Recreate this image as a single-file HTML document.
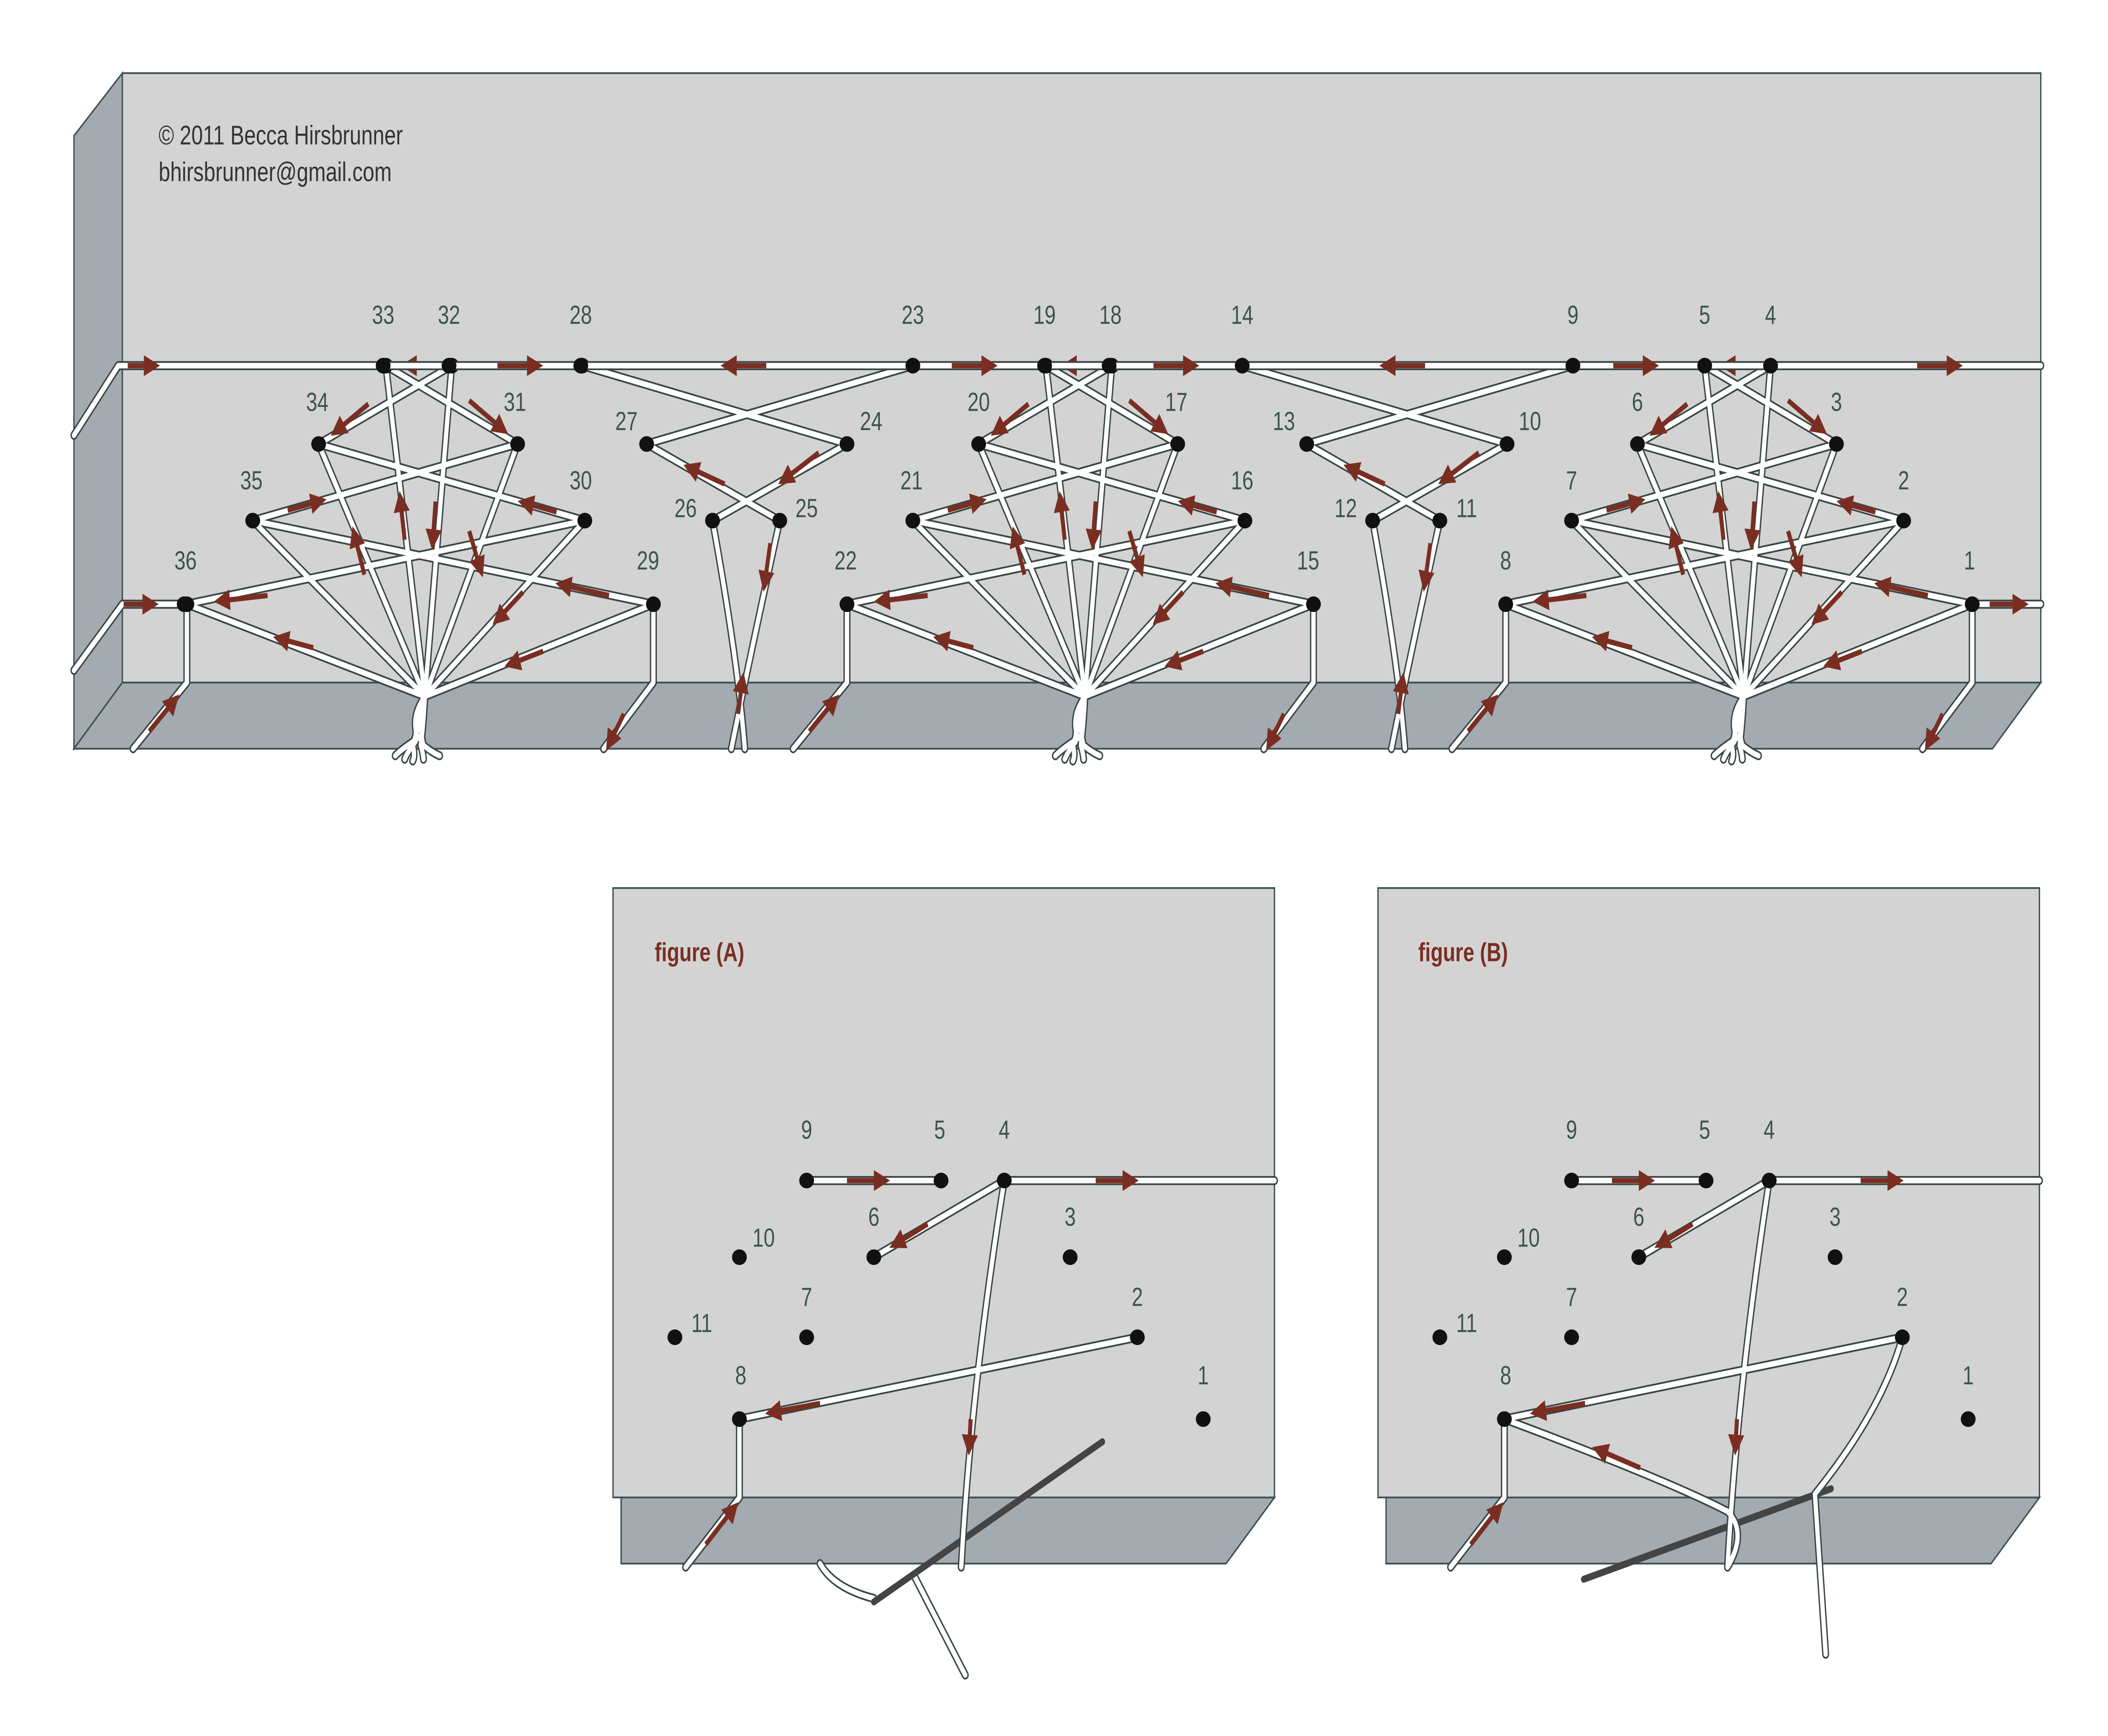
<!DOCTYPE html>
<html><head><meta charset="utf-8"><style>
html,body{margin:0;padding:0;background:#fff;width:100%;height:100%;overflow:hidden;}
svg{display:block;position:absolute;left:0;top:0;width:100vw;height:100vh;}
text{font-family:"Liberation Sans",sans-serif;}
.lbl{font-size:15px;fill:#3d5350;text-anchor:middle;}
.tw{fill:none;stroke:#3a4646;stroke-width:5.2;stroke-linecap:round;stroke-linejoin:round;}
.tw2{fill:none;stroke:#fff;stroke-width:3.2;stroke-linecap:round;stroke-linejoin:round;}
.ar{stroke:#7a2e22;stroke-width:3;marker-end:url(#ah);}
</style></head><body>
<svg viewBox="0 0 1568 997" preserveAspectRatio="none" xmlns="http://www.w3.org/2000/svg">
<defs>
<marker id="ah" markerWidth="4" markerHeight="4" refX="2" refY="2" orient="auto" markerUnits="strokeWidth"><path d="M0,0 L4,2 L0,4 z" fill="#7a2e22"/></marker>
<g id="hole"><ellipse cx="0" cy="0" rx="5.5" ry="4.5" fill="#111"/></g>
</defs>

<polygon points="55,78 91,42 91,392 55,430" fill="#a3aab0" stroke="#3c5050" stroke-width="1"/>
<polygon points="91,392 1518,392 1482,430 55,430" fill="#a3aab0" stroke="#3c5050" stroke-width="1"/>
<rect x="91" y="42" width="1427" height="350" fill="#d3d3d3" stroke="#3c5050" stroke-width="1"/>
<text x="118" y="83" font-size="15.5" fill="#333">© 2011 Becca Hirsbrunner</text>
<text x="118" y="104" font-size="15.5" fill="#333">bhirsbrunner@gmail.com</text>

<g id="grp">
<path class="tw" d="M1297,400 L1467,347 M1297,400 L1416,299 M1297,400 L1366,255 M1297,400 L1317,210 M1297,400 L1268,210 M1297,400 L1218,255 M1297,400 L1169,299 M1297,400 L1120,347
M1268,210 L1366,255 M1317,210 L1218,255 M1218,255 L1416,299 M1366,255 L1169,299 M1169,299 L1467,347 M1416,299 L1120,347
M1467,347 L1467,392 L1430,430 M1120,347 L1120,392 L1080,430
M1297,400 Q1286,412 1292,424 Q1280,430 1275,434 M1297,400 Q1290,414 1290,426 Q1284,432 1282,436 M1297,400 Q1294,414 1288,428 Q1290,434 1288,437 M1297,400 Q1296,416 1294,428 Q1296,434 1296,436 M1297,400 Q1292,418 1296,428 Q1302,432 1308,434"/>
<path class="tw2" d="M1297,400 L1467,347 M1297,400 L1416,299 M1297,400 L1366,255 M1297,400 L1317,210 M1297,400 L1268,210 M1297,400 L1218,255 M1297,400 L1169,299 M1297,400 L1120,347
M1268,210 L1366,255 M1317,210 L1218,255 M1218,255 L1416,299 M1366,255 L1169,299 M1169,299 L1467,347 M1416,299 L1120,347
M1467,347 L1467,392 L1430,430 M1120,347 L1120,392 L1080,430
M1297,400 Q1286,412 1292,424 Q1280,430 1275,434 M1297,400 Q1290,414 1290,426 Q1284,432 1282,436 M1297,400 Q1294,414 1288,428 Q1290,434 1288,437 M1297,400 Q1296,416 1294,428 Q1296,434 1296,436 M1297,400 Q1292,418 1296,428 Q1302,432 1308,434"/>
<g>
<use href="#hole" x="1268" y="210"/><use href="#hole" x="1317" y="210"/>
<use href="#hole" x="1218" y="255"/><use href="#hole" x="1366" y="255"/>
<use href="#hole" x="1169" y="299"/><use href="#hole" x="1416" y="299"/>
<use href="#hole" x="1120" y="347"/><use href="#hole" x="1467" y="347"/>
</g>
<line class="ar" x1="1300" y1="210" x2="1285" y2="210"/>
<line class="ar" x1="1330" y1="230" x2="1354" y2="246"/>
<line class="ar" x1="1255" y1="232" x2="1232" y2="247"/>
<line class="ar" x1="1395" y1="294" x2="1372" y2="289"/>
<line class="ar" x1="1195" y1="293" x2="1218" y2="288"/>
<line class="ar" x1="1434" y1="342" x2="1400" y2="336"/>
<line class="ar" x1="1180" y1="342" x2="1146" y2="345"/>
<line class="ar" x1="1282" y1="310" x2="1279" y2="288"/>
<line class="ar" x1="1305" y1="288" x2="1303" y2="310"/>
<line class="ar" x1="1252" y1="330" x2="1245" y2="308"/>
<line class="ar" x1="1330" y1="305" x2="1338" y2="326"/>
<line class="ar" x1="1370" y1="340" x2="1352" y2="355"/>
<line class="ar" x1="1214" y1="372" x2="1190" y2="367"/>
<line class="ar" x1="1385" y1="374" x2="1362" y2="381"/>
<line class="ar" x1="1445" y1="410" x2="1435" y2="426"/>
<line class="ar" x1="1092" y1="420" x2="1110" y2="403"/>
</g>
<use href="#grp" x="-490" y="0"/>
<use href="#grp" x="-981" y="0"/>

<g id="f8">
<path class="tw" d="M924,210 L1121,255 M1170,210 L972,255 M972,255 L1071,299 M1121,255 L1021,299 M1021,299 Q1040,380 1045,430 M1071,299 Q1048,380 1035,430"/>
<path class="tw2" d="M924,210 L1121,255 M1170,210 L972,255 M972,255 L1071,299 M1121,255 L1021,299 M1021,299 Q1040,380 1045,430 M1071,299 Q1048,380 1035,430"/>
<use href="#hole" x="924" y="210"/><use href="#hole" x="1170" y="210"/>
<use href="#hole" x="972" y="255"/><use href="#hole" x="1121" y="255"/>
<use href="#hole" x="1021" y="299"/><use href="#hole" x="1071" y="299"/>
<line class="ar" x1="1100" y1="260" x2="1075" y2="275"/>
<line class="ar" x1="1030" y1="278" x2="1005" y2="269"/>
<line class="ar" x1="1064" y1="312" x2="1060" y2="334"/>
<line class="ar" x1="1040" y1="410" x2="1043" y2="392"/>
</g>
<use href="#f8" x="-491" y="0"/>

<path class="tw" d="M55,250 L88,210 L1518,210 M55,385 L91,347 L137,347 M1467,347 L1518,347"/>
<path class="tw2" d="M55,250 L88,210 L1518,210 M55,385 L91,347 L137,347 M1467,347 L1518,347"/>
<g>
<use href="#hole" x="285" y="210"/><use href="#hole" x="334" y="210"/><use href="#hole" x="432" y="210"/><use href="#hole" x="679" y="210"/>
<use href="#hole" x="777" y="210"/><use href="#hole" x="825" y="210"/><use href="#hole" x="924" y="210"/><use href="#hole" x="1170" y="210"/>
<use href="#hole" x="1268" y="210"/><use href="#hole" x="1317" y="210"/><use href="#hole" x="137" y="347"/><use href="#hole" x="1467" y="347"/>
</g>
<line class="ar" x1="95" y1="210" x2="113" y2="210"/>
<line class="ar" x1="370" y1="210" x2="398" y2="210"/>
<line class="ar" x1="570" y1="210" x2="542" y2="210"/>
<line class="ar" x1="708" y1="210" x2="736" y2="210"/>
<line class="ar" x1="858" y1="210" x2="886" y2="210"/>
<line class="ar" x1="1060" y1="210" x2="1032" y2="210"/>
<line class="ar" x1="1200" y1="210" x2="1228" y2="210"/>
<line class="ar" x1="1426" y1="210" x2="1454" y2="210"/>
<line class="ar" x1="92" y1="347" x2="112" y2="347"/>
<line class="ar" x1="1480" y1="347" x2="1503" y2="347"/>

<g class="lbl">
<text x="285" y="186">33</text><text x="334" y="186">32</text><text x="432" y="186">28</text><text x="679" y="186">23</text>
<text x="777" y="186">19</text><text x="826" y="186">18</text><text x="924" y="186">14</text><text x="1170" y="186">9</text>
<text x="1268" y="186">5</text><text x="1317" y="186">4</text>
<text x="236" y="236">34</text><text x="383" y="236">31</text><text x="466" y="247">27</text><text x="648" y="247">24</text>
<text x="728" y="236">20</text><text x="875" y="236">17</text><text x="955" y="247">13</text><text x="1138" y="247">10</text>
<text x="1218" y="236">6</text><text x="1366" y="236">3</text>
<text x="187" y="281">35</text><text x="432" y="281">30</text><text x="510" y="297">26</text><text x="600" y="297">25</text>
<text x="678" y="281">21</text><text x="924" y="281">16</text><text x="1001" y="297">12</text><text x="1091" y="297">11</text>
<text x="1169" y="281">7</text><text x="1416" y="281">2</text>
<text x="138" y="327">36</text><text x="482" y="327">29</text><text x="629" y="327">22</text><text x="973" y="327">15</text>
<text x="1120" y="327">8</text><text x="1465" y="327">1</text>
</g>

<polygon points="462,860 948,860 912,898 462,898" fill="#a3aab0" stroke="#3c5050" stroke-width="1"/>
<rect x="456" y="510" width="492" height="350" fill="#d3d3d3" stroke="#3c5050" stroke-width="1"/>
<text x="487" y="552" font-size="15" font-weight="bold" fill="#7a2e22">figure (A)</text>
<path class="tw" d="M610,898 Q620,912 650,918 M680,905 L718,962"/>
<path class="tw2" d="M610,898 Q620,912 650,918 M680,905 L718,962"/>
<line x1="650" y1="920" x2="820" y2="828" stroke="#444" stroke-width="4" stroke-linecap="round"/>
<path class="tw" d="M600,678 L700,678 M747,678 L948,678 M747,678 L650,722 M747,678 Q722,800 715,900 M846,768 L550,815 M550,815 L550,860 L510,900"/>
<path class="tw2" d="M600,678 L700,678 M747,678 L948,678 M747,678 L650,722 M747,678 Q722,800 715,900 M846,768 L550,815 M550,815 L550,860 L510,900"/>
<g>
<use href="#hole" x="600" y="678"/><use href="#hole" x="700" y="678"/><use href="#hole" x="747" y="678"/>
<use href="#hole" x="650" y="722"/><use href="#hole" x="796" y="722"/><use href="#hole" x="550" y="722"/>
<use href="#hole" x="600" y="768"/><use href="#hole" x="846" y="768"/><use href="#hole" x="502" y="768"/>
<use href="#hole" x="550" y="815"/><use href="#hole" x="895" y="815"/>
</g>
<line class="ar" x1="630" y1="678" x2="656" y2="678"/>
<line class="ar" x1="815" y1="678" x2="841" y2="678"/>
<line class="ar" x1="690" y1="703" x2="667" y2="714"/>
<line class="ar" x1="722" y1="815" x2="721" y2="830"/>
<line class="ar" x1="610" y1="806" x2="575" y2="811"/>
<line class="ar" x1="525" y1="887" x2="545" y2="867"/>
<g class="lbl">
<text x="600" y="654">9</text><text x="699" y="654">5</text><text x="747" y="654">4</text>
<text x="650" y="704">6</text><text x="796" y="704">3</text><text x="568" y="716">10</text>
<text x="600" y="750">7</text><text x="846" y="750">2</text><text x="522" y="765">11</text>
<text x="551" y="795">8</text><text x="895" y="795">1</text>
</g>

<polygon points="1031,860 1517,860 1481,898 1031,898" fill="#a3aab0" stroke="#3c5050" stroke-width="1"/>
<rect x="1025" y="510" width="492" height="350" fill="#d3d3d3" stroke="#3c5050" stroke-width="1"/>
<text x="1055" y="552" font-size="15" font-weight="bold" fill="#7a2e22">figure (B)</text>
<line x1="1178" y1="907" x2="1362" y2="855" stroke="#444" stroke-width="4" stroke-linecap="round"/>
<path class="tw" d="M1169,678 L1269,678 M1316,678 L1517,678 M1316,678 L1219,722 M1316,678 Q1292,800 1285,900 M1415,768 L1119,815 M1119,815 L1119,860 L1079,900 M1415,768 Q1400,810 1350,858 L1358,950 M1119,815 Q1240,850 1285,868 Q1300,880 1285,900"/>
<path class="tw2" d="M1169,678 L1269,678 M1316,678 L1517,678 M1316,678 L1219,722 M1316,678 Q1292,800 1285,900 M1415,768 L1119,815 M1119,815 L1119,860 L1079,900 M1415,768 Q1400,810 1350,858 L1358,950 M1119,815 Q1240,850 1285,868 Q1300,880 1285,900"/>
<g>
<use href="#hole" x="1169" y="678"/><use href="#hole" x="1269" y="678"/><use href="#hole" x="1316" y="678"/>
<use href="#hole" x="1219" y="722"/><use href="#hole" x="1365" y="722"/><use href="#hole" x="1119" y="722"/>
<use href="#hole" x="1169" y="768"/><use href="#hole" x="1415" y="768"/><use href="#hole" x="1071" y="768"/>
<use href="#hole" x="1119" y="815"/><use href="#hole" x="1464" y="815"/>
</g>
<line class="ar" x1="1199" y1="678" x2="1225" y2="678"/>
<line class="ar" x1="1384" y1="678" x2="1410" y2="678"/>
<line class="ar" x1="1259" y1="703" x2="1236" y2="714"/>
<line class="ar" x1="1292" y1="815" x2="1291" y2="830"/>
<line class="ar" x1="1179" y1="806" x2="1144" y2="811"/>
<line class="ar" x1="1220" y1="843" x2="1190" y2="833"/>
<line class="ar" x1="1094" y1="887" x2="1114" y2="867"/>
<g class="lbl">
<text x="1169" y="654">9</text><text x="1268" y="654">5</text><text x="1316" y="654">4</text>
<text x="1219" y="704">6</text><text x="1365" y="704">3</text><text x="1137" y="716">10</text>
<text x="1169" y="750">7</text><text x="1415" y="750">2</text><text x="1091" y="765">11</text>
<text x="1120" y="795">8</text><text x="1464" y="795">1</text>
</g>
</svg>
</body></html>
